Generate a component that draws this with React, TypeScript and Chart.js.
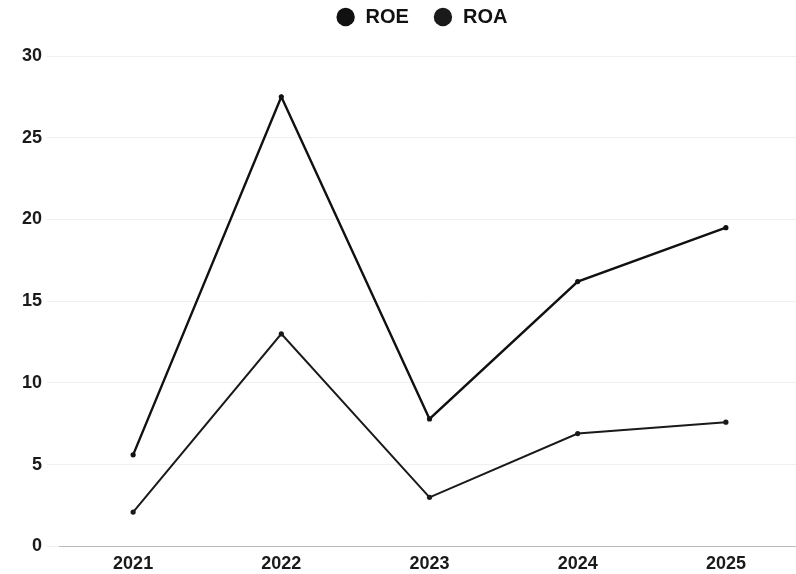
import React, { useEffect, useRef } from "react";
import { Chart, registerables } from "chart.js";

Chart.register(...registerables);

const years = ["2021", "2022", "2023", "2024", "2025"];
const roe = [5.6, 27.5, 7.8, 16.2, 19.5];
const roa = [2.1, 13.0, 3.0, 6.9, 7.6];
const yTicks = [0, 5, 10, 15, 20, 25, 30];

const FONT = "Liberation Sans, Arial, sans-serif";

const legendTweak = {
  id: "legendTweak",
  beforeLayout(chart: any) {
    const lg = chart.legend;
    if (!lg || lg.__patched) return;
    lg.__patched = true;
    const origFit = lg.fit;
    lg.fit = function (...a: any[]) {
      origFit.apply(this, a);
      this.height = 56;
    };
    const origDraw = lg.draw;
    lg.draw = function (...a: any[]) {
      const ctx = this.ctx;
      ctx.save();
      ctx.translate(13, -17);
      origDraw.apply(this, a);
      ctx.restore();
    };
  },
};

export default function App() {
  const ref = useRef<HTMLCanvasElement | null>(null);
  useEffect(() => {
    if (!ref.current) return;
    const chart = new Chart(ref.current, {
      type: "line",
      data: {
        labels: years,
        datasets: [
          {
            label: "ROE",
            data: roe,
            borderColor: "#111111",
            backgroundColor: "#000000",
            borderWidth: 2.4,
            pointRadius: 2.6,
            pointBackgroundColor: "#111111",
            pointBorderWidth: 0,
            tension: 0,
          },
          {
            label: "ROA",
            data: roa,
            borderColor: "#1a1a1a",
            backgroundColor: "#1d1c3c",
            borderWidth: 2,
            pointRadius: 2.6,
            pointBackgroundColor: "#1a1a1a",
            pointBorderWidth: 0,
            tension: 0,
          },
        ],
      },
      plugins: [legendTweak],
      options: {
        animation: false,
        responsive: true,
        maintainAspectRatio: false,
        layout: { padding: { left: 17, right: 4, top: 0, bottom: -8 } },
        plugins: {
          legend: {
            position: "top",
            labels: {
              usePointStyle: true,
              pointStyle: "circle",
              boxWidth: 20,
              boxHeight: 13,
              padding: 24,
              color: "#111",
              font: { family: FONT, size: 20, weight: "bold" },
            },
          },
          tooltip: { enabled: false },
        },
        scales: {
          x: {
            offset: true,
            grid: { display: false, drawTicks: false },
            border: { display: true, color: "#bbbbbb" },
            ticks: {
              color: "#1a1a1a",
              padding: 7,
              font: { family: FONT, size: 18, weight: "bold" },
            },
          },
          y: {
            min: 0,
            max: 30,
            afterBuildTicks: (axis: any) => {
              axis.ticks = yTicks.map((v) => ({ value: v }));
            },
            grid: { color: "#efefef", tickLength: 12 },
            border: { display: false },
            ticks: {
              color: "#1a1a1a",
              padding: 5,
              font: { family: FONT, size: 18, weight: "bold" },
            },
          },
        },
      },
    });
    return () => chart.destroy();
  }, []);
  return (
    <div style={{ position: "absolute", left: 0, top: 0, width: 796, height: 574, overflow: "hidden", background: "#fff" }}>
      <div style={{ position: "relative", width: 804, height: 574 }}>
        <canvas ref={ref} />
      </div>
    </div>
  );
}
